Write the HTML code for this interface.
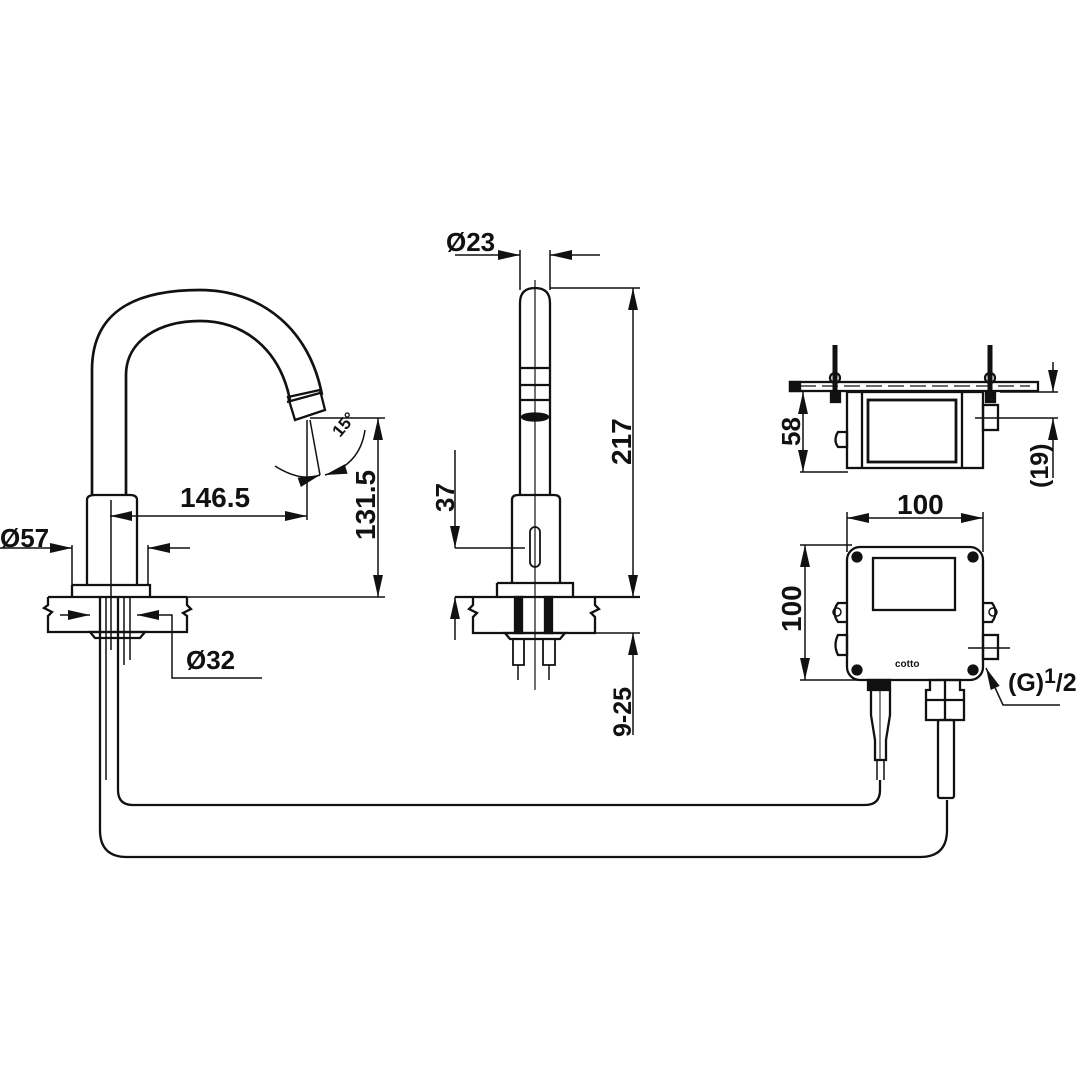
<!DOCTYPE html>
<html><head><meta charset="utf-8"><style>
html,body{margin:0;padding:0;background:#fff}
svg{display:block}
text{font-family:"Liberation Sans",sans-serif;font-weight:bold;fill:#111}
</style></head><body>
<svg width="1090" height="1090" viewBox="0 0 1090 1090" xmlns="http://www.w3.org/2000/svg">
<defs>
<marker id="b" viewBox="0 0 20 10" refX="20" refY="5" markerWidth="24" markerHeight="11" orient="auto-start-reverse" markerUnits="userSpaceOnUse"><path d="M0,0.5 L20,5 L0,9.5z" fill="#111"/></marker>
</defs>
<g fill="none" stroke="#111" stroke-width="2.3">
<!-- LEFT FAUCET -->
<path d="M92,495 L92,370 C92,305 145,290 200,290 C262,290 310,330 322,395" stroke-width="2.7"/>
<path d="M126,495 L126,375 C126,340 160,321 200,321 C245,321 280,350 290,400" stroke-width="2.7"/>
<path d="M288,397 L320,390 L325,410 L295,420 Z"/>
<path d="M287,402 L320,393"/>
<path d="M87,585 L87,500 Q87,495 95,495 L130,495 Q137,495 137,500 L137,585"/>
<path d="M72,585 L150,585 L150,596 M72,585 L72,596"/>
<path d="M48,597 L187,597 M48,597 L48,605 L44,608 L52,612 L48,616 L48,632 L187,632 L187,616 L183,613 L191,609 L187,605 L187,597"/>
<path d="M90,632 L145,632 L140,638 L95,638 Z"/>
<line x1="111" y1="500" x2="111" y2="650" stroke-width="1.5"/>
<line x1="100" y1="597" x2="100" y2="830"/>
<line x1="118" y1="597" x2="118" y2="790"/>
<path d="M106,597 L106,780 M124,597 L124,665 M130,597 L130,660" stroke-width="1.5"/>
<path d="M100,830 Q100,857 127,857 L920,857 Q947,857 947,830 L947,800"/>
<path d="M118,790 Q118,805 133,805 L865,805 Q880,805 880,790 L880,780"/>
<!-- Ø57 -->
<line x1="72" y1="545" x2="72" y2="585" stroke-width="1.5"/>
<line x1="148" y1="545" x2="148" y2="585" stroke-width="1.5"/>
<line x1="0" y1="548" x2="72" y2="548" stroke-width="1.5" marker-end="url(#b)"/>
<line x1="190" y1="548" x2="148" y2="548" stroke-width="1.5" marker-end="url(#b)"/>
<!-- 146.5 -->
<line x1="307" y1="420" x2="307" y2="520" stroke-width="1.5"/>
<line x1="110" y1="516" x2="307" y2="516" stroke-width="1.5" marker-start="url(#b)" marker-end="url(#b)"/>
<!-- 131.5 -->
<line x1="310" y1="418" x2="385" y2="418" stroke-width="1.5"/>
<line x1="187" y1="597" x2="385" y2="597" stroke-width="1.5"/>
<line x1="378" y1="418" x2="378" y2="597" stroke-width="1.5" marker-start="url(#b)" marker-end="url(#b)"/>
<!-- 15° -->
<line x1="310" y1="420" x2="320" y2="475" stroke-width="1.5"/>
<path d="M275,466 Q300,482 320,475" stroke-width="1.5" marker-end="url(#b)"/>
<path d="M365,430 Q360,465 325,475" stroke-width="1.5" marker-end="url(#b)"/>
<!-- Ø32 -->
<line x1="60" y1="615" x2="90" y2="615" stroke-width="1.5" marker-end="url(#b)"/>
<line x1="170" y1="615" x2="137" y2="615" stroke-width="1.5" marker-end="url(#b)"/>
<path d="M170,615 L172,615 L172,678 L262,678" stroke-width="1.5"/>

<!-- MIDDLE FAUCET -->
<path d="M520,495 L520,303 Q520,288 535,288 Q550,288 550,303 L550,495"/>
<path d="M520,368 L550,368 M520,385 L550,385 M520,400 L550,400"/>
<ellipse cx="535" cy="417" rx="13" ry="3.5" fill="#111"/>
<path d="M512,583 L512,500 Q512,495 518,495 L554,495 Q560,495 560,500 L560,583"/>
<path d="M497,583 L573,583 L573,597 M497,583 L497,597"/>
<rect x="530" y="527" width="10" height="40" rx="5" stroke-width="1.8"/>
<path d="M455,597 L640,597 M473,597 L473,605 L469,609 L477,613 L473,617 L473,633 L595,633 L595,617 L591,613 L599,609 L595,605 L595,597"/>
<line x1="535" y1="280" x2="535" y2="690" stroke-width="1.2"/>
<rect x="515" y="597" width="7" height="36" fill="#111"/>
<rect x="545" y="597" width="7" height="36" fill="#111"/>
<path d="M505,633 L565,633 L560,639 L510,639 Z"/>
<path d="M513,639 L513,665 L524,665 L524,639 M543,639 L543,665 L555,665 L555,639" stroke-width="1.8"/>
<path d="M518,665 L518,680 M549,665 L549,680" stroke-width="1.5"/>
<!-- Ø23 -->
<line x1="520" y1="250" x2="520" y2="290" stroke-width="1.5"/>
<line x1="550" y1="250" x2="550" y2="290" stroke-width="1.5"/>
<line x1="455" y1="255" x2="520" y2="255" stroke-width="1.5" marker-end="url(#b)"/>
<line x1="600" y1="255" x2="550" y2="255" stroke-width="1.5" marker-end="url(#b)"/>
<!-- 217 -->
<line x1="550" y1="288" x2="640" y2="288" stroke-width="1.5"/>
<line x1="633" y1="288" x2="633" y2="597" stroke-width="1.5" marker-start="url(#b)" marker-end="url(#b)"/>
<!-- 9-25 -->
<line x1="595" y1="633" x2="640" y2="633" stroke-width="1.5"/>
<line x1="633" y1="735" x2="633" y2="633" stroke-width="1.5" marker-end="url(#b)"/>
<!-- 37 -->
<line x1="455" y1="548" x2="525" y2="548" stroke-width="1.5"/>
<line x1="455" y1="450" x2="455" y2="548" stroke-width="1.5" marker-end="url(#b)"/>
<line x1="455" y1="640" x2="455" y2="597" stroke-width="1.5" marker-end="url(#b)"/>

<!-- RIGHT TOP BOX -->
<rect x="790" y="382" width="248" height="9"/>
<path d="M800,386 L1030,386" stroke-dasharray="16 6" stroke-width="1.2"/>
<rect x="790" y="382" width="10" height="9" fill="#111"/>
<rect x="847" y="392" width="136" height="76"/>
<rect x="868" y="400" width="88" height="62" stroke-width="2.8"/>
<line x1="862" y1="392" x2="862" y2="468"/>
<line x1="962" y1="392" x2="962" y2="468"/>
<path d="M838,432 L847,432 L847,447 L838,447 Q833,440 838,432Z"/>
<rect x="983" y="405" width="15" height="25"/>
<path d="M835,345 L835,392 M990,345 L990,392" stroke-width="5"/>
<circle cx="835" cy="378" r="5"/><circle cx="990" cy="378" r="5"/>
<rect x="831" y="392" width="9" height="10" fill="#111"/>
<rect x="986" y="392" width="9" height="10" fill="#111"/>
<!-- 58 -->
<line x1="800" y1="472" x2="848" y2="472" stroke-width="1.5"/>
<line x1="803" y1="392" x2="803" y2="472" stroke-width="1.5" marker-start="url(#b)" marker-end="url(#b)"/>
<!-- 19 -->
<line x1="1000" y1="392" x2="1058" y2="392" stroke-width="1.5"/>
<line x1="975" y1="418" x2="1058" y2="418" stroke-width="1.5"/>
<line x1="1053" y1="362" x2="1053" y2="392" stroke-width="1.5" marker-end="url(#b)"/>
<line x1="1053" y1="478" x2="1053" y2="418" stroke-width="1.5" marker-end="url(#b)"/>

<!-- RIGHT BOTTOM BOX -->
<line x1="847" y1="512" x2="847" y2="552" stroke-width="1.5"/>
<line x1="983" y1="512" x2="983" y2="552" stroke-width="1.5"/>
<line x1="847" y1="518" x2="983" y2="518" stroke-width="1.5" marker-start="url(#b)" marker-end="url(#b)"/>
<line x1="800" y1="545" x2="852" y2="545" stroke-width="1.5"/>
<line x1="800" y1="680" x2="860" y2="680" stroke-width="1.5"/>
<line x1="805" y1="545" x2="805" y2="680" stroke-width="1.5" marker-start="url(#b)" marker-end="url(#b)"/>
<rect x="847" y="547" width="136" height="133" rx="13"/>
<rect x="873" y="558" width="82" height="52"/>
<circle cx="857" cy="557" r="4.5" fill="#111"/><circle cx="973" cy="557" r="4.5" fill="#111"/>
<circle cx="857" cy="670" r="4.5" fill="#111"/><circle cx="973" cy="670" r="4.5" fill="#111"/>
<path d="M847,603 L838,603 Q831,612 838,622 L847,622"/>
<path d="M983,603 L992,603 Q999,612 992,622 L983,622"/>
<circle cx="837" cy="612" r="4" stroke-width="1.5"/><circle cx="993" cy="612" r="4" stroke-width="1.5"/>
<path d="M838,635 L847,635 L847,655 L838,655 Q833,645 838,635Z"/>
<rect x="983" y="635" width="15" height="24"/>
<line x1="968" y1="648" x2="1010" y2="648" stroke-width="1.5"/>
<path d="M1060,705 L1003,705 L986,668" stroke-width="1.5" marker-end="url(#b)"/>
<!-- cables -->
<rect x="868" y="680" width="22" height="10" fill="#111"/>
<path d="M871,690 L871,715 L875,740 L875,760 L886,760 L886,740 L890,715 L890,690"/>
<line x1="880" y1="690" x2="880" y2="760" stroke-width="1"/>
<path d="M877,760 L877,780 M884,760 L884,780" stroke-width="1.5"/>
<path d="M930,680 L960,680 L960,690 L964,690 L964,720 L926,720 L926,690 L930,690Z"/>
<path d="M926,700 L964,700 M945,680 L945,720"/>
<rect x="938" y="720" width="16" height="78" rx="2"/>
</g>
<!-- Texts -->
<text x="0" y="547" font-size="26">Ø57</text>
<text x="180" y="507" font-size="28">146.5</text>
<text x="186" y="669" font-size="26">Ø32</text>
<text transform="translate(340,438) rotate(-50)" font-size="17">15°</text>
<text transform="translate(375,540) rotate(-90)" font-size="28">131.5</text>
<text x="446" y="251" font-size="26">Ø23</text>
<text transform="translate(631,465) rotate(-90)" font-size="28">217</text>
<text transform="translate(454,512) rotate(-90)" font-size="26">37</text>
<text transform="translate(631,737) rotate(-90)" font-size="25">9-25</text>
<text transform="translate(800,446) rotate(-90)" font-size="26">58</text>
<text transform="translate(1048,488) rotate(-90)" font-size="25">(19)</text>
<text x="897" y="514" font-size="28">100</text>
<text transform="translate(801,632) rotate(-90)" font-size="28">100</text>
<text x="895" y="667" font-size="10">cotto</text>
<text x="1008" y="691" font-size="25">(G)<tspan font-size="21" dy="-8">1</tspan><tspan font-size="25" dy="8">/2</tspan></text>
</svg>
</body></html>
